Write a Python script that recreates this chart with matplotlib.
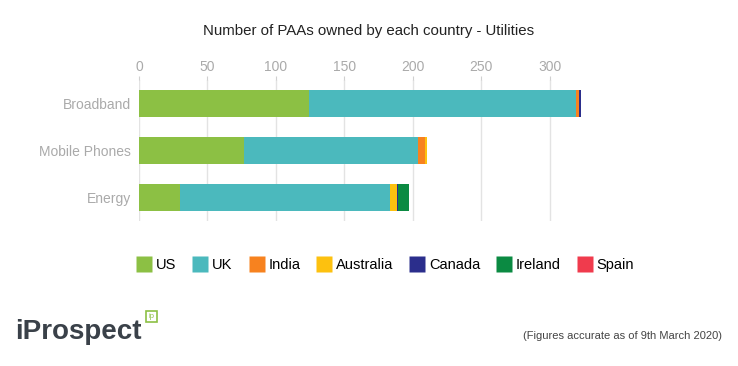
import matplotlib.pyplot as plt
from matplotlib.lines import Line2D
from matplotlib.patches import FancyBboxPatch

plt.rcParams['font.family'] = ['Liberation Sans', 'DejaVu Sans']

categories = ["Broadband", "Mobile Phones", "Energy"]
countries = ["US", "UK", "India", "Australia", "Canada", "Ireland", "Spain"]
us = [124, 77, 30]
uk = [195, 127, 153]
india = [2.5, 4.5, 0]
australia = [0, 2, 5]
canada = [1, 0, 1]
ireland = [0, 0, 8]
spain = [0, 0, 0]
series = [us, uk, india, australia, canada, ireland, spain]
colors = ["#8cc044", "#4bb9bd", "#f7821f", "#fdc10f", "#2b2e8c", "#0b8a42", "#f03b4d"]
ticks = [0, 50, 100, 150, 200, 250, 300]

fig = plt.figure(figsize=(7.38, 3.66), dpi=100)
ax = fig.add_axes([139/738, 1-221/366, (591-139)/738, (221-80)/366])

ypos = [0, 1, 2]
left = [0, 0, 0]
for vals, c in zip(series, colors):
    ax.barh(ypos, vals, left=left, color=c, height=0.56, zorder=3)
    left = [l + v for l, v in zip(left, vals)]

ax.set_ylim(2.5, -0.5)
ax.set_xlim(0, 330)
ax.set_xticks(ticks)
ax.xaxis.tick_top()
ax.tick_params(axis='x', colors='#d0d0d0', labelcolor='#aaaaaa', length=3, labelsize=10, pad=1)
ax.tick_params(axis='y', length=0, labelcolor='#aaaaaa', labelsize=10, pad=6)
ax.set_yticks(ypos)
ax.set_yticklabels(categories)
ax.grid(axis='x', color='#e3e3e3', linewidth=1, zorder=0)
for s in ax.spines.values():
    s.set_visible(False)

fig.text(0.5, 1-31/366, "Number of PAAs owned by each country - Utilities",
         ha='center', va='center', fontsize=10.8, color='#222222')

handles = [Line2D([], [], marker='s', linestyle='none', markersize=11,
                  markerfacecolor=c, markeredgecolor='none') for c in colors]
fig.legend(handles, countries, loc='center', bbox_to_anchor=(386/738, 1-265/366),
           ncol=7, frameon=False, fontsize=10.5, handlelength=0.9,
           handletextpad=0.35, columnspacing=1.2, borderpad=0)

# logo
fig.text(15/738, 1-332/366, "iProspect", fontsize=20, color='#3a4149',
         ha='left', va='center', fontweight='bold')
icon = FancyBboxPatch((146/738, 1-322/366), 11/738, 11/366, boxstyle='square,pad=0',
                      transform=fig.transFigure, facecolor='white', edgecolor='#8cc044',
                      linewidth=1.2)
fig.patches.append(icon)
fig.text(151.5/738, 1-316.5/366, "ip", fontsize=5.5, color='#8cc044', ha='center', va='center')

fig.text(722/738, 1-336/366, "(Figures accurate as of 9th March 2020)", fontsize=8,
         color='#444444', ha='right', va='center')

fig.savefig("out.png", dpi=100)
